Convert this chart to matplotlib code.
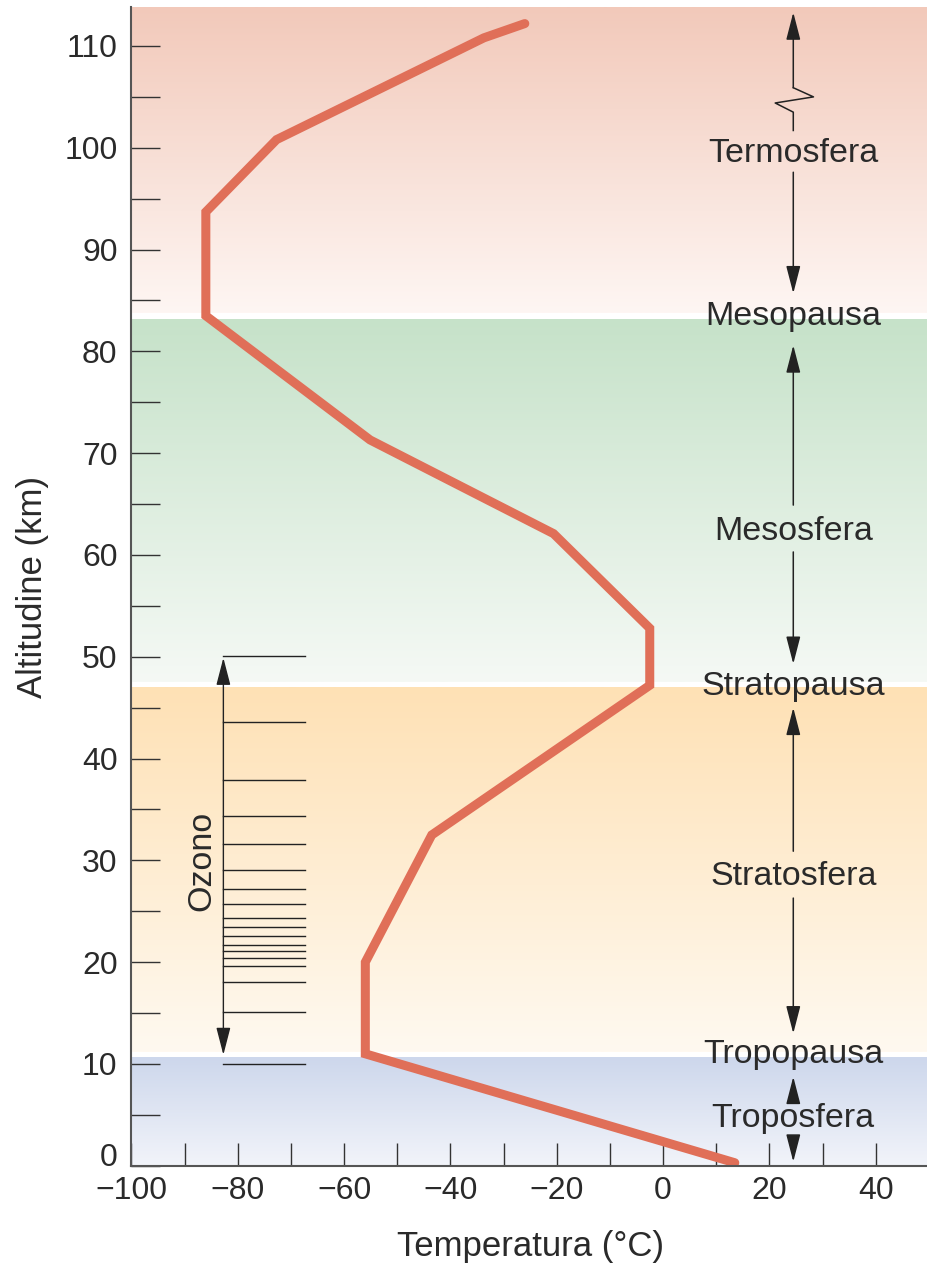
import numpy as np
import matplotlib
matplotlib.use('Agg')
import matplotlib.pyplot as plt
import matplotlib.transforms as mtransforms
from matplotlib.colors import to_rgb

plt.rcParams['font.family'] = ['Liberation Sans', 'DejaVu Sans']

# ---- data ----
temperature = [13.5, -56.0, -56.0, -43.5, -2.5, -2.5, -20.6, -55.1, -86.0, -86.0, -72.7, -33.7, -26.0]
altitude = [0.3, 11.0, 20.0, 32.5, 47.2, 52.8, 62.1, 71.3, 83.5, 93.7, 100.8, 110.8, 112.2]

ozone_levels = [10.0, 15.1, 18.1, 19.6, 20.4, 21.1, 21.7, 22.6, 23.5, 24.3,
                25.7, 27.2, 29.1, 31.6, 34.4, 37.9, 43.6, 50.1]

layer_names = ['Troposfera', 'Stratosfera', 'Mesosfera', 'Termosfera']
layer_bottoms = [0.0, 11.2, 47.5, 83.8]
layer_tops = [10.7, 47.0, 83.1, 113.8]
layer_top_colors = ['#CDD7EC', '#FEE1B5', '#C6E2C9', '#F2C9BA']
layer_bottom_colors = ['#F2F4FA', '#FFF9F0', '#F5F9F5', '#FEF6F3']
layer_label_y = [3.85, 27.6, 61.5, 98.6]

pause_names = ['Tropopausa', 'Stratopausa', 'Mesopausa']
pause_label_y = [10.07, 46.2, 82.6]

y_major = list(range(0, 111, 10))
y_minor = list(range(5, 111, 10))
x_major = list(range(-100, 41, 20))
x_minor = list(range(-90, 41, 20))

# ---- figure ----
fig = plt.figure(figsize=(9.27, 12.64), dpi=100)
H = 1264.0
W = 927.0
ax_left = 131.4 / W
ax_bottom = (H - 1165.8) / H
ax_top = (H - 7.3) / H
ax = fig.add_axes([ax_left, ax_bottom, 1.0 - ax_left + 0.002, ax_top - ax_bottom])

# gradient bands
for b, t, ct, cb in zip(layer_bottoms, layer_tops, layer_top_colors, layer_bottom_colors):
    c0 = np.array(to_rgb(cb))
    c1 = np.array(to_rgb(ct))
    f = np.linspace(0, 1, 256)[:, None]
    grad = (c0[None, :] * (1 - f) + c1[None, :] * f)[:, None, :]
    ax.imshow(grad, extent=[-100, 50, b, t], origin='lower', aspect='auto',
              interpolation='bilinear', zorder=0)
ax.set_xlim(-100, 50)
ax.set_ylim(0, 113.8)

# temperature profile
ax.plot(temperature, altitude, color='#E06F58', lw=6.5, solid_joinstyle='miter',
        solid_capstyle='round', zorder=5)

# ozone
ox0, ox1 = -82.7, -67.3
for lev in ozone_levels:
    ax.plot([ox0, ox1], [lev, lev], color='#222222', lw=1.0, zorder=3)
ax.annotate('', xy=(ox0, 49.9), xytext=(ox0, 10.9),
            arrowprops=dict(arrowstyle='<|-|>,head_length=0.85,head_width=0.22',
                            mutation_scale=20, color='#222222', lw=1.0,
                            shrinkA=0, shrinkB=0), zorder=4)
ax.text(-85.2, 30.0, 'Ozono', rotation=90, rotation_mode='anchor',
        ha='center', va='baseline', fontsize=24.5, color='#2a2a2a', zorder=4)

# layer labels and arrows
lx = 24.5
tc = '#2a2a2a'
for name, y in zip(layer_names, layer_label_y):
    ax.text(lx, y, name, ha='center', va='baseline', fontsize=24.5, color=tc, zorder=6)
for name, y in zip(pause_names, pause_label_y):
    ax.text(lx, y, name, ha='center', va='baseline', fontsize=24.5, color=tc, zorder=6)

def arrow(y_from, y_to):
    ax.annotate('', xy=(lx, y_to), xytext=(lx, y_from),
                arrowprops=dict(arrowstyle='-|>,head_length=0.85,head_width=0.22',
                                mutation_scale=20, color='#222222', lw=1.1,
                                shrinkA=0, shrinkB=0), zorder=6)

# thermosphere
arrow(105.9, 113.3)
ax.plot([lx, 28.3, 21.1, lx, lx], [105.9, 105.0, 104.4, 103.5, 101.7],
        color='#222222', lw=1.1, zorder=6)
arrow(97.6, 85.7)
# mesosphere
arrow(64.9, 80.6)
arrow(60.3, 49.3)
# stratosphere
arrow(30.9, 45.0)
arrow(26.3, 13.0)
# troposphere
arrow(6.3, 8.75)
arrow(2.86, 0.4)

# axes styling
for s in ['top', 'right']:
    ax.spines[s].set_visible(False)
for s in ['left', 'bottom']:
    ax.spines[s].set_color('#555555')
    ax.spines[s].set_linewidth(1.5)
    ax.spines[s].set_zorder(7)

ax.set_yticks(y_major)
ax.set_yticks(y_minor, minor=True)
ax.set_xticks(x_major)
ax.set_xticks(x_minor, minor=True)
ax.tick_params(axis='y', which='both', direction='in', length=21, width=1.0,
               color='#333333', pad=10, labelsize=23, labelcolor='#2a2a2a')
ax.tick_params(axis='x', which='both', direction='in', length=16.5, width=1.0,
               color='#333333', pad=7, labelsize=23, labelcolor='#2a2a2a')

# lift the "0" altitude label so it clears the "-100" temperature label
fig.canvas.draw()
zero_lab = ax.yaxis.get_major_ticks()[0].label1
zero_lab.set_transform(zero_lab.get_transform() +
                       mtransforms.ScaledTranslation(0, 8 / 72, fig.dpi_scale_trans))

ax.set_xlabel('Temperatura (°C)', fontsize=25, color='#2a2a2a')
ax.xaxis.label.set_va('baseline')
ax.xaxis.set_label_coords(0.5, (1165.8 - 1256) / (1165.8 - 7.3))
ax.set_ylabel('Altitudine (km)', fontsize=25, color='#2a2a2a')
ax.yaxis.label.set_va('baseline')
ax.yaxis.set_label_coords((42.7 - 131.4) / (W - 131.4), 0.5)

fig.savefig('out.png', dpi=100, facecolor='white')
